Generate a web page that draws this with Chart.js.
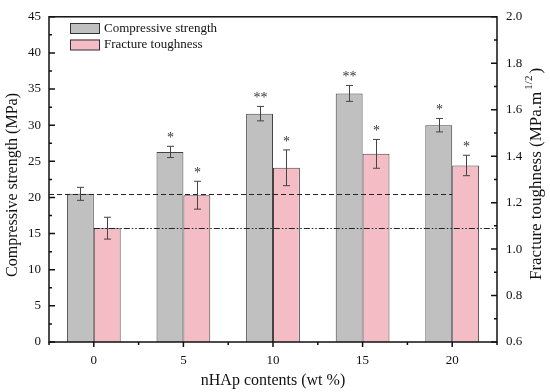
<!DOCTYPE html>
<html>
<head>
<meta charset="utf-8">
<script src="https://cdn.jsdelivr.net/npm/chart.js@4.4.0/dist/chart.umd.min.js"></script>
<style>
  html, body { margin: 0; padding: 0; background: #fff; }
  #wrap { width: 550px; height: 392px; }
</style>
</head>
<body>
<div id="wrap"><canvas id="chart"></canvas></div>
<script>
// values
const contents = ['0', '5', '10', '15', '20'];
const compStrength = [20.5, 26.3, 31.6, 34.4, 30.0];
const compErr = [0.9, 0.78, 1.0, 1.1, 0.93];
const toughness = [1.09, 1.232, 1.35, 1.41, 1.36];
const toughErr = [0.047, 0.06, 0.077, 0.062, 0.044];
const compMarks = ['', '*', '**', '**', '*'];
const toughMarks = ['', '*', '*', '*', '*'];

// reference lines (control level), x in wt %
const compRefLine = [{x: -2.5, y: 20.5}, {x: 20, y: 20.5}];
const toughRefLine = [{x: 0, y: 1.09}, {x: 22.5, y: 1.09}];

const FONT = '"Liberation Serif", "Times New Roman", serif';
const GRAY = '#c0c0c0';
const PINK = '#f4bcc5';

function refLine(ctx, pts, xs, ys, dash){
    ctx.setLineDash(dash);
    ctx.beginPath();
    ctx.moveTo(xs.getPixelForValue(pts[0].x), Math.round(ys.getPixelForValue(pts[0].y)) + 0.5);
    ctx.lineTo(xs.getPixelForValue(pts[1].x), Math.round(ys.getPixelForValue(pts[1].y)) + 0.5);
    ctx.stroke();
    ctx.setLineDash([]);
}

const decor = {
    id: 'decor',
    afterDatasetsDraw(chart){
        const ctx = chart.ctx;
        const y = chart.scales.y, y1 = chart.scales.y1, x2 = chart.scales.x2;
        ctx.save();
        ctx.strokeStyle = '#222';
        ctx.lineWidth = 1.2;
        refLine(ctx, compRefLine, x2, y, [5, 3]);
        refLine(ctx, toughRefLine, x2, y1, [6, 2, 1.5, 2, 1.5, 2]);

        const sets = [
            {meta: chart.getDatasetMeta(0), vals: compStrength, errs: compErr, marks: compMarks, scale: y},
            {meta: chart.getDatasetMeta(1), vals: toughness, errs: toughErr, marks: toughMarks, scale: y1}
        ];
        sets.forEach(s => {
            s.meta.data.forEach((bar, i) => {
                const x = Math.round(bar.x) + 0.5;
                const top = s.scale.getPixelForValue(s.vals[i] + s.errs[i]);
                const bot = s.scale.getPixelForValue(s.vals[i] - s.errs[i]);
                ctx.strokeStyle = '#444';
                ctx.lineWidth = 1;
                ctx.beginPath();
                ctx.moveTo(x, top); ctx.lineTo(x, bot);
                ctx.moveTo(x - 3.5, top); ctx.lineTo(x + 3.5, top);
                ctx.moveTo(x - 3.5, bot); ctx.lineTo(x + 3.5, bot);
                ctx.stroke();
                if(s.marks[i]){
                    ctx.fillStyle = '#333';
                    ctx.font = '14px ' + FONT;
                    ctx.textAlign = 'center';
                    ctx.textBaseline = 'alphabetic';
                    ctx.fillText(s.marks[i], x, top - 4);
                }
            });
        });
        ctx.restore();
    },
    afterDraw(chart){
        const ctx = chart.ctx;
        const a = chart.chartArea;
        const y = chart.scales.y, y1 = chart.scales.y1, x2 = chart.scales.x2;
        ctx.save();
        ctx.strokeStyle = '#111';
        ctx.lineWidth = 1.5;
        ctx.strokeRect(a.left, a.top, a.right - a.left, a.bottom - a.top);

        ctx.beginPath();
        for(let v = 0; v <= 45.001; v += 2.5){
            const py = y.getPixelForValue(v);
            const len = (Math.round(v * 10) % 50 === 0) ? 6 : 3;
            ctx.moveTo(a.left, py); ctx.lineTo(a.left + len, py);
        }
        for(let k = 6; k <= 20; k++){
            const py = y1.getPixelForValue(k / 10);
            const len = (k % 2 === 0) ? 6 : 3;
            ctx.moveTo(a.right, py); ctx.lineTo(a.right - len, py);
        }
        for(let v = -2.5; v <= 22.501; v += 2.5){
            const px = x2.getPixelForValue(v);
            const len = (Math.round(v * 10) % 50 === 0) ? 5 : 3;
            ctx.moveTo(px, a.bottom); ctx.lineTo(px, a.bottom + len);
        }
        ctx.stroke();

        // legend
        const items = [['Compressive strength', GRAY], ['Fracture toughness', PINK]];
        items.forEach((it, i) => {
            const by = 23 + i * 16.5;
            ctx.fillStyle = it[1];
            ctx.fillRect(70, by, 30, 10.5);
            ctx.strokeStyle = '#333';
            ctx.lineWidth = 1;
            ctx.strokeRect(70.5, by + 0.5, 29, 10);
            ctx.fillStyle = '#111';
            ctx.font = '13px ' + FONT;
            ctx.textAlign = 'left';
            ctx.textBaseline = 'middle';
            ctx.fillText(it[0], 104, by + 5.5);
        });

        // left axis title
        ctx.fillStyle = '#111';
        ctx.save();
        ctx.translate(13, 185);
        ctx.rotate(-Math.PI / 2);
        ctx.font = '16px ' + FONT;
        ctx.textAlign = 'center';
        ctx.textBaseline = 'middle';
        ctx.fillText('Compressive strength (MPa)', 0, 0);
        ctx.restore();

        // right axis title with superscript
        ctx.save();
        ctx.translate(537, 174);
        ctx.rotate(-Math.PI / 2);
        ctx.textBaseline = 'middle';
        ctx.textAlign = 'left';
        const main = 'Fracture toughness (MPa.m';
        ctx.font = '17px ' + FONT;
        const w1 = ctx.measureText(main).width;
        ctx.font = '11px ' + FONT;
        const w2 = ctx.measureText('1/2').width;
        ctx.font = '17px ' + FONT;
        const w3 = ctx.measureText(')').width;
        let sx = -(w1 + w2 + w3 + 4) / 2;
        ctx.fillText(main, sx, 0);
        sx += w1 + 2;
        ctx.font = '11px ' + FONT;
        ctx.fillText('1/2', sx, -8);
        sx += w2 + 2;
        ctx.font = '17px ' + FONT;
        ctx.fillText(')', sx, 0);
        ctx.restore();
        ctx.restore();
    }
};

new Chart(document.getElementById('chart'), {
    type: 'bar',
    data: {
        labels: contents,
        datasets: [{
            label: 'Compressive strength',
            data: compStrength,
            backgroundColor: GRAY,
            borderColor: '#444',
            borderWidth: 1,
            categoryPercentage: 0.6,
            barPercentage: 1.0,
            yAxisID: 'y'
        }, {
            label: 'Fracture toughness',
            data: toughness,
            backgroundColor: PINK,
            borderColor: '#444',
            borderWidth: 1,
            categoryPercentage: 0.6,
            barPercentage: 1.0,
            yAxisID: 'y1'
        }]
    },
    options: {
        responsive: true,
        maintainAspectRatio: false,
        animation: false,
        layout: {padding: {top: 9, left: 0, right: 0, bottom: 0}},
        plugins: {legend: {display: false}, tooltip: {enabled: false}},
        scales: {
            x: {
                offset: true,
                grid: {display: false, drawTicks: false},
                border: {display: false},
                ticks: {padding: 11, color: '#111', font: {family: FONT, size: 13}},
                title: {display: true, text: 'nHAp contents (wt %)', color: '#111',
                        font: {family: FONT, size: 16}, padding: {top: 0, bottom: 2}},
                afterFit: s => { s.height = 50; }
            },
            x2: {
                type: 'linear',
                display: false,
                offset: false,
                min: -2.5,
                max: 22.5
            },
            y: {
                position: 'left',
                min: 0,
                max: 45,
                grid: {display: false, drawTicks: false},
                border: {display: false},
                ticks: {stepSize: 5, padding: 8, color: '#111', font: {family: FONT, size: 13}},
                afterFit: s => { s.width = 49; }
            },
            y1: {
                position: 'right',
                min: 0.6,
                max: 2.0,
                grid: {display: false, drawTicks: false},
                border: {display: false},
                ticks: {stepSize: 0.2, padding: 9, color: '#111', font: {family: FONT, size: 13},
                        callback: v => v.toFixed(1)},
                afterFit: s => { s.width = 53; }
            }
        }
    },
    plugins: [decor]
});
</script>
</body>
</html>
